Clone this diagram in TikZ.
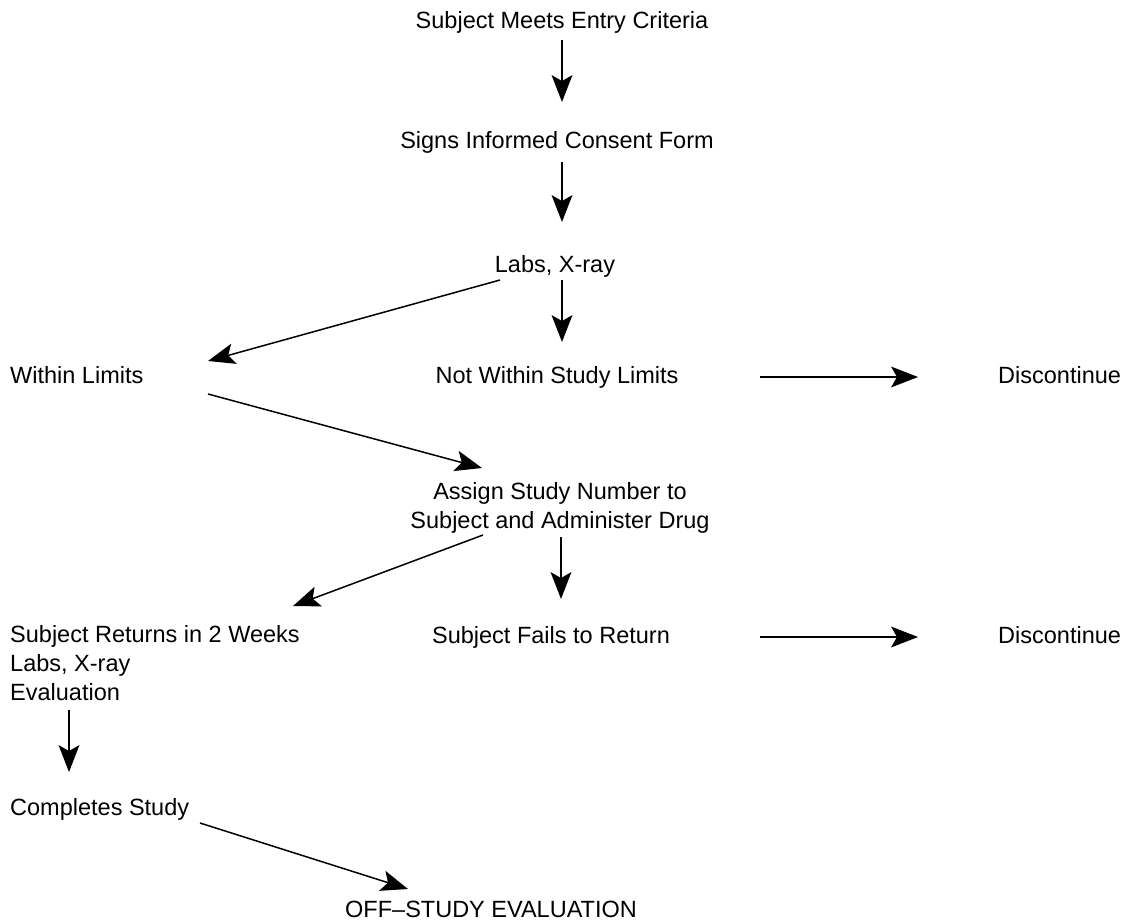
\documentclass[tikz,border=0pt]{standalone}
\usepackage{fontspec}
\setmainfont{Liberation Sans}
\usetikzlibrary{calc}
\newcommand{\flowarrow}[3]{%
  \draw[line width=#3, line cap=butt] (#1) -- ($(#2)!18pt!(#1)$);
  \fill[black] (#2) -- ($($(#2)!27pt!(#1)$)!10.5pt!90:(#2)$) -- ($(#2)!21pt!(#1)$) -- ($($(#2)!27pt!(#1)$)!10.5pt!-90:(#2)$) -- cycle;
}
\begin{document}
\begin{tikzpicture}[x=1pt,y=-1pt,
  lbl/.style={inner sep=0pt, font=\fontsize{23.5}{29}\selectfont, text height=17pt, text depth=5pt}]
\useasboundingbox (0,0) rectangle (1126,921);
% texts
\node[lbl, anchor=base] (n1) at (562,28) {Subject Meets Entry Criteria};
\node[lbl, anchor=base] (n2) at (557,148) {Signs Informed Consent Form};
\node[lbl, anchor=base] (labs) at (555,272) {Labs, X-ray};
\node[lbl, anchor=base west] (within) at (10,383) {Within Limits};
\node[lbl, anchor=base] (notwithin) at (557,383) {Not Within Study Limits};
\node[lbl, anchor=base west] (disc1) at (998,383) {Discontinue};
\node[lbl, anchor=base, align=center] (assign) at (560,528) {Assign Study Number to\\Subject and Administer Drug};
\node[lbl, anchor=base west, align=left] (returns) at (10,700) {Subject Returns in 2 Weeks\\Labs, X-ray\\Evaluation};
\node[lbl, anchor=base] (fails) at (551,643) {Subject Fails to Return};
\node[lbl, anchor=base west] (disc2) at (998,643) {Discontinue};
\node[lbl, anchor=base west] (completes) at (10,815) {Completes Study};
\node[lbl, anchor=base] (offstudy) at (491,917) {OFF–STUDY EVALUATION};
% connector ends
\coordinate (a1s) at (562,40);  \coordinate (a1e) at (562,102);
\coordinate (a2s) at (562,162); \coordinate (a2e) at (562,222);
\coordinate (a3s) at (562,280); \coordinate (a3e) at (562,342);
\coordinate (d1s) at (500,280); \coordinate (d1e) at (208,361);
\coordinate (h1s) at (760,377); \coordinate (h1e) at (918,377);
\coordinate (d2s) at (208,394); \coordinate (d2e) at (482,468);
\coordinate (d3s) at (483,535); \coordinate (d3e) at (293,606);
\coordinate (a4s) at (561,537); \coordinate (a4e) at (561,599);
\coordinate (h2s) at (760,637); \coordinate (h2e) at (918,637);
\coordinate (a5s) at (69,710);  \coordinate (a5e) at (69,772);
\coordinate (d4s) at (200,823); \coordinate (d4e) at (408,889);
% connectors
\flowarrow{a1s}{a1e}{2.6pt}
\flowarrow{a2s}{a2e}{2.6pt}
\flowarrow{a3s}{a3e}{2.6pt}
\flowarrow{d1s}{d1e}{1.5pt}
\flowarrow{h1s}{h1e}{2.6pt}
\flowarrow{d2s}{d2e}{1.5pt}
\flowarrow{d3s}{d3e}{1.5pt}
\flowarrow{a4s}{a4e}{2.6pt}
\flowarrow{h2s}{h2e}{2.6pt}
\flowarrow{a5s}{a5e}{2.6pt}
\flowarrow{d4s}{d4e}{1.5pt}
\end{tikzpicture}
\end{document}
